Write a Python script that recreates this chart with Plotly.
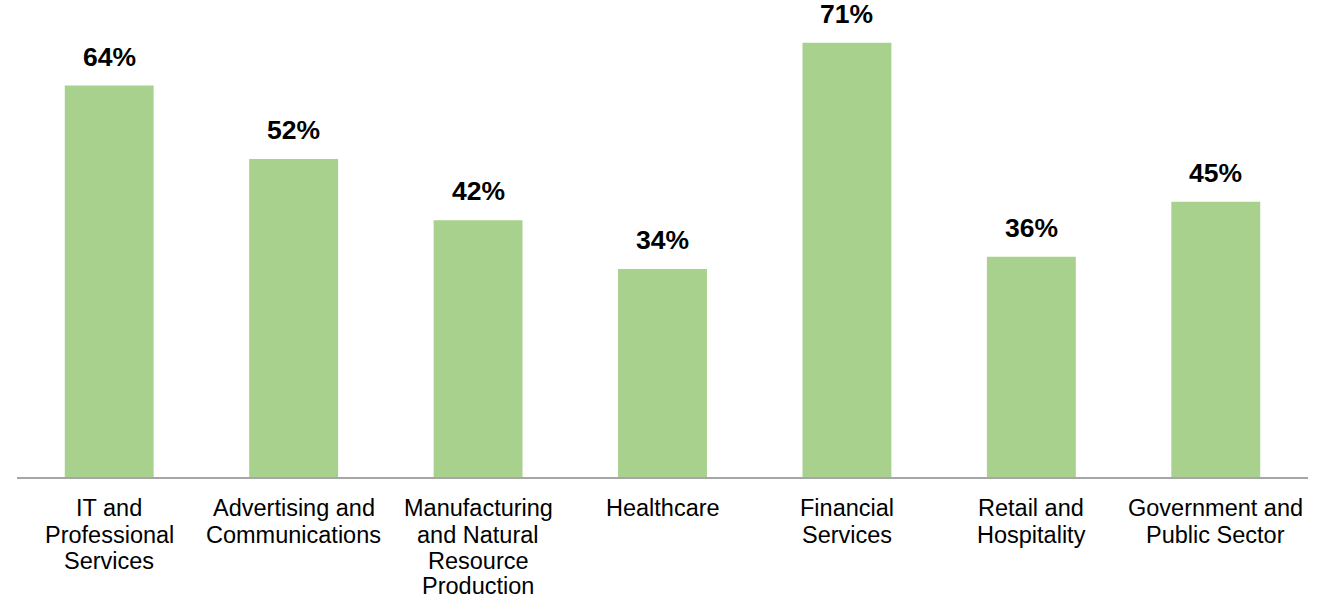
import plotly.graph_objects as go

# Share of organisations by industry sector
categories = [
    "IT and<br>Professional<br>Services",
    "Advertising and<br>Communications",
    "Manufacturing<br>and Natural<br>Resource<br>Production",
    "Healthcare",
    "Financial<br>Services",
    "Retail and<br>Hospitality",
    "Government and<br>Public Sector",
]
values = [64, 52, 42, 34, 71, 36, 45]
value_labels = ["64%", "52%", "42%", "34%", "71%", "36%", "45%"]

FONT = "Liberation Sans, Arial, sans-serif"
BAR_COLOR = "#A9D18E"

fig = go.Figure(
    go.Bar(
        x=list(range(len(categories))),
        y=values,
        marker=dict(color=BAR_COLOR, line=dict(width=0)),
        hoverinfo="skip",
    )
)

annotations = []
# value labels above the bars
for i, (v, lab) in enumerate(zip(values, value_labels)):
    annotations.append(dict(
        x=i, y=v, xref="x", yref="y", text=f"<b>{lab}</b>",
        showarrow=False, yanchor="middle", xanchor="center", yshift=29,
        font=dict(family=FONT, size=26.5, color="#000000"),
    ))
# category labels below the axis, one line at a time for tighter spacing
line_gaps = [0, 26.5, 52.5, 77.5]
for i, cat in enumerate(categories):
    for j, line in enumerate(cat.split("<br>")):
        annotations.append(dict(
            x=i, y=0, xref="x", yref="y", text=line,
            showarrow=False, yanchor="middle", xanchor="center",
            yshift=-(31 + line_gaps[j]),
            font=dict(family=FONT, size=23.5, color="#000000"),
        ))

fig.update_layout(
    width=1332, height=600,
    margin=dict(l=17, r=24, t=0, b=123),
    paper_bgcolor="white", plot_bgcolor="white",
    bargap=0.518,
    showlegend=False,
    annotations=annotations,
    xaxis=dict(
        range=[-0.5, len(categories) - 0.5],
        showticklabels=False, ticks="", showgrid=False, zeroline=False,
        showline=True, linecolor="#A6A6A6", linewidth=2,
        fixedrange=True,
    ),
    yaxis=dict(
        range=[0, 78], visible=False, showgrid=False, zeroline=False,
        fixedrange=True,
    ),
)

fig.write_html("out.html")
